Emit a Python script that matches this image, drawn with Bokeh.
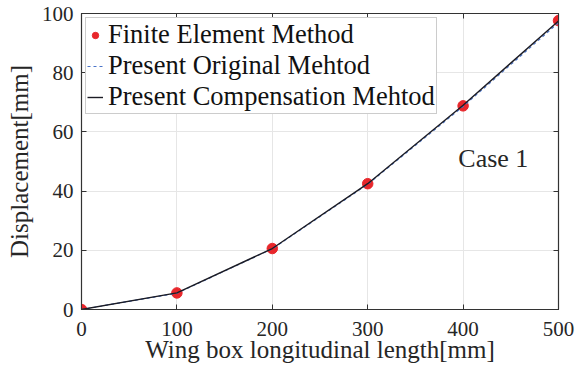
from bokeh.plotting import figure
from bokeh.models import LinearAxis, Legend, LegendItem, Range1d, Label, FixedTicker
from bokeh.embed import file_html
from bokeh.resources import INLINE

x = [0, 100, 200, 300, 400, 500]
fem = [0, 5.6, 20.6, 42.5, 68.8, 97.6]
original = [0, 5.5, 20.5, 42.3, 68.6, 96.9]
compensation = [0, 5.6, 20.6, 42.5, 69.0, 97.5]
x_ticks = [0, 100, 200, 300, 400, 500]
y_ticks = [0, 20, 40, 60, 80, 100]

FONT = "Liberation Serif"
TXT = "#262626"

p = figure(width=583, height=365, output_backend="svg", toolbar_location=None,
           x_range=Range1d(0, 500), y_range=Range1d(0, 100),
           min_border_left=81, min_border_right=25, min_border_top=13, min_border_bottom=55)
p.background_fill_color = "white"
p.border_fill_color = "white"
p.outline_line_color = "#333333"
p.outline_line_width = 1.2

for ax in (p.xaxis[0], p.yaxis[0]):
    ax.major_tick_in = 5
    ax.major_tick_out = 0
    ax.minor_tick_in = 0
    ax.minor_tick_out = 0
    ax.axis_line_color = "#333333"
    ax.major_tick_line_color = "#333333"
    ax.major_label_text_font = FONT
    ax.major_label_text_font_size = "21px"
    ax.major_label_text_color = TXT
    ax.axis_label_text_font = FONT
    ax.axis_label_text_font_size = "25px"
    ax.axis_label_text_font_style = "normal"
    ax.axis_label_text_color = TXT
p.xaxis[0].ticker = FixedTicker(ticks=x_ticks)
p.yaxis[0].ticker = FixedTicker(ticks=y_ticks)
p.xaxis[0].axis_label = "Wing box longitudinal length[mm]"
p.yaxis[0].axis_label = "Displacement[mm]"
p.xaxis[0].major_label_standoff = 12
p.xaxis[0].axis_label_standoff = -3
p.yaxis[0].major_label_standoff = 8
p.yaxis[0].axis_label_standoff = 6

empty_x = {t: "" for t in x_ticks}
empty_y = {t: "" for t in y_ticks}
top = LinearAxis(ticker=FixedTicker(ticks=x_ticks), major_tick_in=5, major_tick_out=0,
                 minor_tick_in=0, minor_tick_out=0, major_label_overrides=empty_x,
                 major_label_standoff=0,
                 axis_line_color="#333333", major_tick_line_color="#333333")
right = LinearAxis(ticker=FixedTicker(ticks=y_ticks), major_tick_in=5, major_tick_out=0,
                   minor_tick_in=0, minor_tick_out=0, major_label_overrides=empty_y,
                   major_label_standoff=0,
                   axis_line_color="#333333", major_tick_line_color="#333333")
p.add_layout(top, "above")
p.add_layout(right, "right")

p.xgrid.ticker = FixedTicker(ticks=x_ticks)
p.ygrid.ticker = FixedTicker(ticks=y_ticks)
p.xgrid.grid_line_color = "#e6e6e6"
p.ygrid.grid_line_color = "#e6e6e6"

r_fem = p.scatter(x, fem, size=10.5, fill_color="#e8262b", line_color="#e8262b")
r_orig = p.line(x, original, line_color="#4a74c9", line_width=1.2, line_dash="3 3")
r_comp = p.line(x, compensation, line_color="#1c1c24", line_width=1.4)

legend = Legend(items=[
    LegendItem(label="Finite Element Method", renderers=[r_fem]),
    LegendItem(label="Present Original Mehtod", renderers=[r_orig]),
    LegendItem(label="Present Compensation Mehtod", renderers=[r_comp]),
], location="top_left")
legend.label_text_font = FONT
legend.label_text_font_size = "26.5px"
legend.label_text_color = "#111111"
legend.glyph_width = 16
legend.glyph_height = 24
legend.label_height = 24
legend.label_standoff = 5
legend.spacing = 0
legend.padding = 1
legend.margin = 4
legend.border_line_color = "#999999"
legend.border_line_width = 1
legend.background_fill_alpha = 1
p.add_layout(legend, "center")

p.add_layout(Label(x=395, y=46, text="Case 1", text_font=FONT, text_font_size="26px",
                   text_color="#262626"))

open("out.html", "w").write(file_html(p, INLINE))
